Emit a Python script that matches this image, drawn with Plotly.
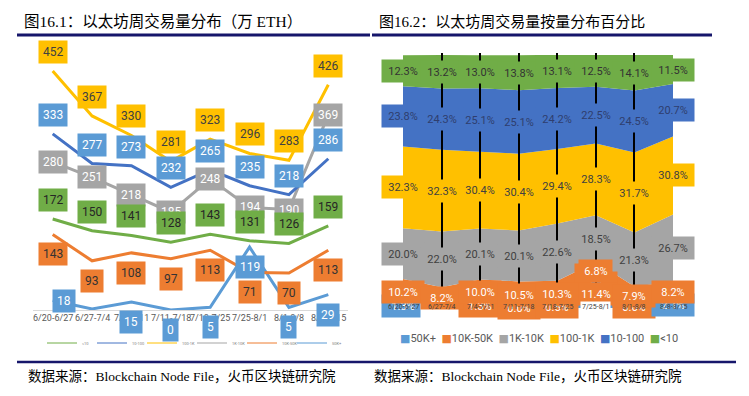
import plotly.graph_objects as go
import numpy as np

# ---------------- data ----------------
categories = ["6/20-6/27", "6/27-7/4", "7/4-7/11", "7/11-7/18",
              "7/18-7/25", "7/25-8/1", "8/1-8/8", "8/8-8/15"]
series_names = ["50K+", "10K-50K", "1K-10K", "100-1K", "10-100", "<10"]

# Figure 16.1: weekly volume (万 ETH)
vol_50k_plus = [18, 2, 15, 0, 5, 119, 5, 29]
vol_10k_50k = [143, 93, 108, 97, 113, 71, 70, 113]
vol_1k_10k = [280, 251, 218, 185, 248, 194, 190, 369]
vol_100_1k = [452, 367, 330, 281, 323, 296, 283, 426]
vol_10_100 = [333, 277, 273, 232, 265, 235, 218, 286]
vol_lt10 = [172, 150, 141, 128, 143, 131, 126, 159]

# Figure 16.2: share of weekly volume (%)
pct_50k_plus = [1.3, 0.0, 1.3, 0.0, 0.5, 11.4, 0.6, 2.1]
pct_10k_50k = [10.2, 8.2, 10.0, 10.5, 10.3, 6.8, 7.9, 8.2]
pct_1k_10k = [20.0, 22.0, 20.1, 20.1, 22.6, 18.5, 21.3, 26.7]
pct_100_1k = [32.3, 32.3, 30.4, 30.4, 29.4, 28.3, 31.7, 30.8]
pct_10_100 = [23.8, 24.3, 25.1, 25.1, 24.2, 22.5, 24.5, 20.7]
pct_lt10 = [12.3, 13.2, 13.0, 13.8, 13.1, 12.5, 14.1, 11.5]

vols = [vol_50k_plus, vol_10k_50k, vol_1k_10k, vol_100_1k, vol_10_100, vol_lt10]
pcts = [pct_50k_plus, pct_10k_50k, pct_1k_10k, pct_100_1k, pct_10_100, pct_lt10]

# ---------------- styles ----------------
OFF = 8                      # page body margin
W, H = 749 - OFF, 396 - OFF  # figure size
def px(x):
    return (x - OFF) / W
def py(y):
    return 1 - (y - OFF) / H

colors = ["#5B9BD5", "#ED7D31", "#A5A5A5", "#FFC000", "#4472C4", "#70AD47"]
left_box = ["#5B9BD5", "#ED7D31", "#A5A5A5", "#FFC000", "#5B9BD5", "#70AD47"]
left_txt = ["white", "#333333", "white", "#404040", "white", "#262626"]
left_yshift = [-20, -20, 0, 19, 19, 19]
left_show_50k = [True, False, True, True, True, True, True, True]
left_xshift_50k = [11, 0, 0, 0, 0, 0, 0, 0]
left_yshift_50k = [-1, -20, -20, -20, -20, -20, -20, -20]

right_txt = ["white", "white", "#404040", "#404040", "#2F3E6E", "#333333"]
right_bg_50k = ["#5B9BD5", "white", "#ED7D31", "#ED7D31", "#ED7D31", "#ED7D31", "#ED7D31", "#5B9BD5"]
right_cat_bg = ["rgba(0,0,0,0)"] * 5 + ["white"] + ["rgba(0,0,0,0)"] * 2

SANS = "Roboto, DejaVu Sans, sans-serif"
SERIF = "Liberation Serif, Noto Sans CJK SC, serif"

fig = go.Figure()

# ---- left: lines ----
for name, v, c in zip(series_names, vols, colors):
    fig.add_trace(go.Scatter(x=categories, y=v, mode="lines", name=name,
                             line=dict(color=c, width=3), showlegend=False,
                             xaxis="x", yaxis="y", hoverinfo="skip"))
# legend entries (thin lines)
for name, c in zip(series_names, colors):
    fig.add_trace(go.Scatter(x=[None], y=[None], mode="lines", name=name,
                             line=dict(color=c, width=1), showlegend=True,
                             xaxis="x", yaxis="y", legend="legend"))

# ---- right: stacked areas ----
for name, p, c in zip(series_names, pcts, colors):
    fig.add_trace(go.Scatter(x=categories, y=p, mode="none", name=name,
                             stackgroup="one", fillcolor=c, showlegend=False,
                             xaxis="x2", yaxis="y2", hoverinfo="skip"))

annotations = []

# left category labels (drawn first, data labels sit on top)
for cat in categories:
    annotations.append(dict(x=cat, y=py(318), xref="x", yref="paper", text=cat,
                            showarrow=False, yanchor="middle",
                            font=dict(family=SANS, size=9, color="#595959")))

# left data labels
for s, (name, v) in enumerate(zip(series_names, vols)):
    for i, (cat, val) in enumerate(zip(categories, v)):
        if s == 0:
            if not left_show_50k[i]:
                continue
            xs, ys = left_xshift_50k[i], left_yshift_50k[i]
        else:
            xs, ys = 0, left_yshift[s]
        annotations.append(dict(x=cat, y=val, xref="x", yref="y", text=str(val),
                                showarrow=False, xshift=xs, yshift=ys,
                                bgcolor=left_box[s], borderpad=4,
                                font=dict(family=SANS, size=12, color=left_txt[s])))

# right data labels at band centres
cum = np.cumsum(np.array(pcts), axis=0)
for s, (name, p) in enumerate(zip(series_names, pcts)):
    for i, (cat, val) in enumerate(zip(categories, p)):
        centre = cum[s, i] - val / 2
        bg = right_bg_50k[i] if s == 0 else colors[s]
        annotations.append(dict(x=cat, y=centre, xref="x2", yref="y2",
                                text=f"{val:.1f}%", showarrow=False,
                                bgcolor=bg, borderpad=3, width=36, height=16,
                                font=dict(family=SANS, size=11, color=right_txt[s])))
# right category labels
for i, cat in enumerate(categories):
    annotations.append(dict(x=cat, y=py(313), xref="x2", yref="paper", text=cat,
                            showarrow=False, bgcolor=right_cat_bg[i], borderpad=1,
                            font=dict(family=SANS, size=7, color="#404040")))

# right legend
leg_items = []
for name, c in zip(series_names, colors):
    nm = name.replace("<", "&lt;")
    leg_items.append(f'<span style="color:{c}">■</span>{nm}')
annotations.append(dict(x=px(539), y=py(338), xref="paper", yref="paper",
                        xanchor="center", yanchor="middle",
                        text="&nbsp;&nbsp;".join(leg_items), showarrow=False,
                        font=dict(family=SANS, size=11, color="#595959")))

# titles
annotations.append(dict(x=px(22), y=py(22), xref="paper", yref="paper",
                        xanchor="left", yanchor="middle", showarrow=False,
                        text="图16.1：以太坊周交易量分布（万 ETH）",
                        font=dict(family=SERIF, size=15.5, color="black")))
annotations.append(dict(x=px(377), y=py(22), xref="paper", yref="paper",
                        xanchor="left", yanchor="middle", showarrow=False,
                        text="图16.2：以太坊周交易量按量分布百分比",
                        font=dict(family=SERIF, size=15, color="black")))
# sources
for x0 in (26, 372):
    annotations.append(dict(x=px(x0), y=py(376), xref="paper", yref="paper",
                            xanchor="left", yanchor="middle", showarrow=False,
                            text="数据来源：Blockchain Node File，火币区块链研究院",
                            font=dict(family=SERIF, size=13.5, color="black")))

shapes = [
    dict(type="line", xref="paper", yref="paper", x0=px(17), x1=px(370), y0=py(35), y1=py(35),
         line=dict(color="#16166B", width=3)),
    dict(type="line", xref="paper", yref="paper", x0=px(372), x1=px(712), y0=py(35), y1=py(35),
         line=dict(color="#16166B", width=3)),
    dict(type="line", xref="paper", yref="paper", x0=px(17), x1=px(736), y0=py(362), y1=py(362),
         line=dict(color="#16166B", width=2.5)),
]

fig.update_layout(
    width=W, height=H, margin=dict(l=0, r=0, t=0, b=0),
    paper_bgcolor="white", plot_bgcolor="rgba(0,0,0,0)",
    annotations=annotations, shapes=shapes,
    xaxis=dict(domain=[px(33), px(348)], type="category", range=[-0.5, 7.5],
               showgrid=False, zeroline=False, showline=True, linecolor="#D9D9D9",
               linewidth=1, ticks="", showticklabels=False),
    yaxis=dict(domain=[py(310), py(310 - 460 * 0.5288)], range=[0, 460], visible=False),
    xaxis2=dict(domain=[px(403), px(673)], type="category", range=[0, 7],
                showgrid=False, zeroline=False, showline=False, showticklabels=False,
                ticks="inside", ticklen=255, tickwidth=2, tickcolor="black",
                layer="above traces", anchor="y2"),
    yaxis2=dict(domain=[py(308), py(55)], range=[0, 100], visible=False, anchor="x2"),
    legend=dict(orientation="h", x=px(42), y=py(343), xanchor="left", yanchor="middle",
                font=dict(family=SANS, size=4, color="#7F7F7F"),
                entrywidth=5, entrywidthmode="pixels", itemwidth=30,
                bgcolor="rgba(0,0,0,0)", borderwidth=0),
)

fig.write_html("out.html")
